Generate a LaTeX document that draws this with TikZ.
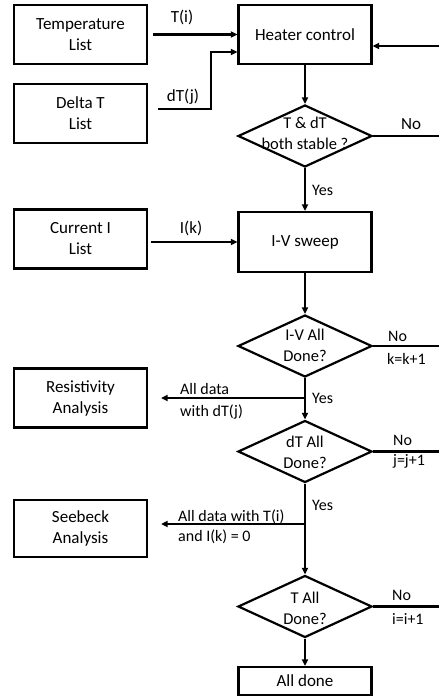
\documentclass[tikz,border=0pt]{standalone}
\usepackage{fontspec}
\setmainfont{Carlito}
\usetikzlibrary{shapes.geometric,arrows.meta,calc}
\begin{document}
\begin{tikzpicture}[x=1pt,y=-1pt,
  box/.style={draw,line width=2.2pt,minimum width=133pt,minimum height=59pt,inner sep=0pt,align=center,font=\fontsize{17}{21}\selectfont},
  dia/.style={draw,shape=diamond,line width=2.2pt,minimum width=134pt,minimum height=62pt,inner sep=0pt},
  dtext/.style={align=center,inner sep=0pt,font=\fontsize{16.5}{21}\selectfont},
  lbl/.style={inner sep=0pt,font=\fontsize{17}{21}\selectfont},
  slbl/.style={inner sep=0pt,anchor=west,font=\fontsize{16}{20}\selectfont},
  flow/.style={line width=2.2pt,-{Triangle[length=6.5pt,width=6pt]}},
  wire/.style={line width=2.2pt}]
\useasboundingbox (0,0) rectangle (439,698);

% input lists and process boxes
\node[box] (temp) at (80.5,34.5) {Temperature\\List};
\node[box] (delta) at (80.5,113.5) {Delta T\\List};
\node[box] (heat) at (305,34.5) {Heater control};
\node[box] (cur) at (80.5,239) {Current I\\List};
\node[box,minimum height=60pt] (iv) at (305,242) {I-V sweep};
\node[box] (res) at (80.5,398) {Resistivity\\Analysis};
\node[box,minimum height=57pt] (see) at (80.5,528.5) {Seebeck\\Analysis};
\node[box,minimum height=28pt] (done) at (305,681) {All done};

% decisions
\node[dia] (d1) at (305,136) {};
\node[dtext] at (305,133) {T \& dT\\both stable ?};
\node[dia] (d2) at (305,346) {};
\node[dtext] at (305,345) {I-V All\\Done?};
\node[dia] (d3) at (305,451.5) {};
\node[dtext] at (305,452) {dT All\\Done?};
\node[dia] (d4) at (305,606.5) {};
\node[dtext] at (305,608) {T All\\Done?};

% loop-back ends at the right margin
\coordinate (e0) at (439,46);
\coordinate (e1) at (439,136);
\coordinate (e2) at (439,346);
\coordinate (e3) at (439,451.5);
\coordinate (e4) at (439,606.5);
\coordinate (tin) at ($(temp.east)+(5,0)$);
\coordinate (din) at ($(delta.east)+(10,-4.5)$);
\coordinate (dknee) at (211,52);
\coordinate (cin) at (151,242);
\coordinate (rsplit) at (305,398);
\coordinate (ssplit) at (305,524);

% connectors
\draw[flow] (tin) -- (heat.west |- tin);
\draw[flow] (din) -| (dknee) -- (heat.west |- dknee);
\draw[flow] (e0) -- (heat.east |- e0);
\draw[flow] (heat) -- (d1);
\draw[wire] (d1.east) -- (e1);
\draw[flow] (d1) -- (iv);
\draw[flow] (cin) -- (iv.west |- cin);
\draw[flow] (iv) -- (d2);
\draw[wire] (d2.east) -- (e2);
\draw[flow] (d2) -- (d3);
\draw[flow] (rsplit) -- ($(res.east)+(13,0)$);
\draw[wire] (d3.east) -- (e3);
\draw[flow] (d3) -- (d4);
\draw[flow] (ssplit) -- ($(see.east |- ssplit)+(13,0)$);
\draw[wire] (d4.east) -- (e4);
\draw[flow] (d4) -- (done);

% connector labels
\node[lbl] at (182,17) {T(i)};
\node[lbl] at (183,97) {dT(j)};
\node[lbl] at (191,228) {I(k)};
\node[lbl] at (411,124) {No};
\node[slbl] at (312,190) {Yes};
\node[slbl] at (388,336) {No};
\node[slbl] at (387,359) {k=k+1};
\node[slbl] at (312,398) {Yes};
\node[slbl] at (180,389) {All data};
\node[slbl] at (180,412) {with dT(j)};
\node[slbl] at (393,440) {No};
\node[slbl] at (393,461) {j=j+1};
\node[slbl] at (312,505) {Yes};
\node[slbl] at (178,517) {All data with T(i)};
\node[slbl] at (178,537) {and I(k) = 0};
\node[slbl] at (392,595) {No};
\node[slbl] at (392,619) {i=i+1};
\end{tikzpicture}
\end{document}
